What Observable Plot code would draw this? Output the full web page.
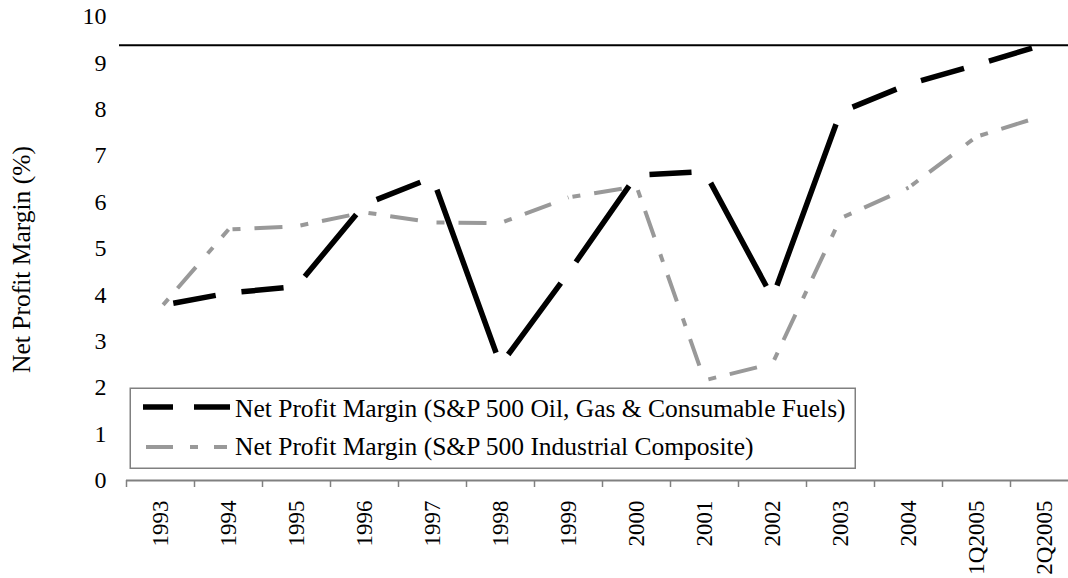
<!DOCTYPE html>
<html><head><meta charset="utf-8">
<script src="https://cdn.jsdelivr.net/npm/d3@7"></script>
<script src="https://cdn.jsdelivr.net/npm/@observablehq/plot@0.6"></script>
<style>
body{margin:0;background:#fff;}
#wrap{position:relative;width:1068px;height:578px;overflow:hidden;font-family:'Liberation Serif','Times New Roman',Times,'DejaVu Serif',serif;}
#wrap > svg{position:absolute;left:0;top:0;}
#wrap text{font-family:'Liberation Serif','Times New Roman',Times,'DejaVu Serif',serif !important;}
</style></head><body><div id="wrap"></div>
<script>
const categories = ["1993","1994","1995","1996","1997","1998","1999","2000","2001","2002","2003","2004","1Q2005","2Q2005"];
const oilGas = [3.77, 4.04, 4.18, 5.95, 6.53, 2.49, 4.48, 6.58, 6.66, 3.94, 7.94, 8.54, 8.96, 9.40];
const industrial = [3.72, 5.41, 5.48, 5.78, 5.56, 5.55, 6.10, 6.34, 2.16, 2.52, 5.65, 6.31, 7.41, 7.87];
const seriesNames = [
  "Net Profit Margin (S&P 500 Oil, Gas & Consumable Fuels)",
  "Net Profit Margin (S&P 500 Industrial Composite)"
];
const yTicks = [0,1,2,3,4,5,6,7,8,9,10];
const yTitle = "Net Profit Margin (%)";
const topRule = 9.38;

const indices = categories.map((d, i) => i);
const boundaries = categories.map((d, i) => i - 0.5).concat([categories.length - 0.5]);

function segments(values) {
  return values.slice(1).map((v, k) => ({i0: k, v0: values[k], i1: k + 1, v1: v}));
}
function dashPerSegment(patternFn) {
  return (index, scales, values, dimensions, context, next) => {
    const g = next(index, scales, values, dimensions, context);
    const paths = g.querySelectorAll("path");
    Array.from(index).forEach((i, k) => {
      const L = Math.hypot(values.x2[i] - values.x1[i], values.y2[i] - values.y1[i]);
      if (paths[k]) paths[k].setAttribute("stroke-dasharray", patternFn(L));
    });
    return g;
  };
}

const font = "'Liberation Serif','Times New Roman',Times,'DejaVu Serif',serif";
const plot = Plot.plot({
  width: 1068, height: 578,
  marginLeft: 126, marginRight: -10, marginTop: 16, marginBottom: 98,
  style: {fontFamily: font, background: "transparent", color: "black"},
  x: {type: "linear", domain: [-0.5, categories.length - 0.5], axis: null},
  y: {domain: [0, 10], axis: null},
  marks: [
    Plot.ruleY([topRule], {stroke: "black", strokeWidth: 2, insetLeft: -7}),
    Plot.axisY(yTicks, {anchor: "left", tickSize: 0, tickPadding: 20, fontSize: 24, fill: "black"}),
    Plot.ruleY([0], {stroke: "#808080", strokeWidth: 2}),
    Plot.axisX(boundaries, {anchor: "bottom", tickSize: 7, tickFormat: () => "", stroke: "#808080", strokeWidth: 1.5}),
    Plot.axisX(indices, {anchor: "bottom", tickSize: 0, tickPadding: 20, tickRotate: -90, tickFormat: i => categories[i], fontSize: 23, fill: "black"}),
    Plot.text([yTitle], {frameAnchor: "left", textAnchor: "middle", dx: -105, dy: 11, rotate: -90, fontSize: 25.5, fill: "black"}),
    Plot.link(segments(industrial), {
      x1: "i0", y1: "v0", x2: "i1", y2: "v1",
      stroke: "#999999", strokeWidth: 4, strokeLinecap: "butt",
      render: dashPerSegment(L => "0 4 8 14 28 14")
    }),
    Plot.link(segments(oilGas), {
      x1: "i0", y1: "v0", x2: "i1", y2: "v1",
      stroke: "black", strokeWidth: 5.5, strokeLinecap: "butt",
      render: dashPerSegment(L => `0 13 ${Math.max(0, L - 26)} ${L + 30}`)
    })
  ]
});
const wrap = document.getElementById("wrap");
wrap.appendChild(plot);

// legend
const ns = "http://www.w3.org/2000/svg";
const leg = document.createElementNS(ns, "svg");
leg.setAttribute("width", 728); leg.setAttribute("height", 83);
leg.style.position = "absolute"; leg.style.left = "129px"; leg.style.top = "387px";
leg.innerHTML = `
  <rect x="1.25" y="1.25" width="725" height="80" fill="white" stroke="#808080" stroke-width="1.5"/>
  <line x1="14" x2="101" y1="20" y2="20" stroke="black" stroke-width="5.5" stroke-dasharray="30 21 36"/>
  <line x1="17" x2="98" y1="60" y2="60" stroke="#999999" stroke-width="4" stroke-dasharray="27 17 8 16 13"/>
  <text x="106" y="29.5" font-size="25.5" fill="black"></text>
  <text x="106" y="68" font-size="25.5" fill="black"></text>`;
const texts = leg.querySelectorAll("text");
texts[0].textContent = seriesNames[0];
texts[1].textContent = seriesNames[1];
wrap.appendChild(leg);
</script>
</body></html>
